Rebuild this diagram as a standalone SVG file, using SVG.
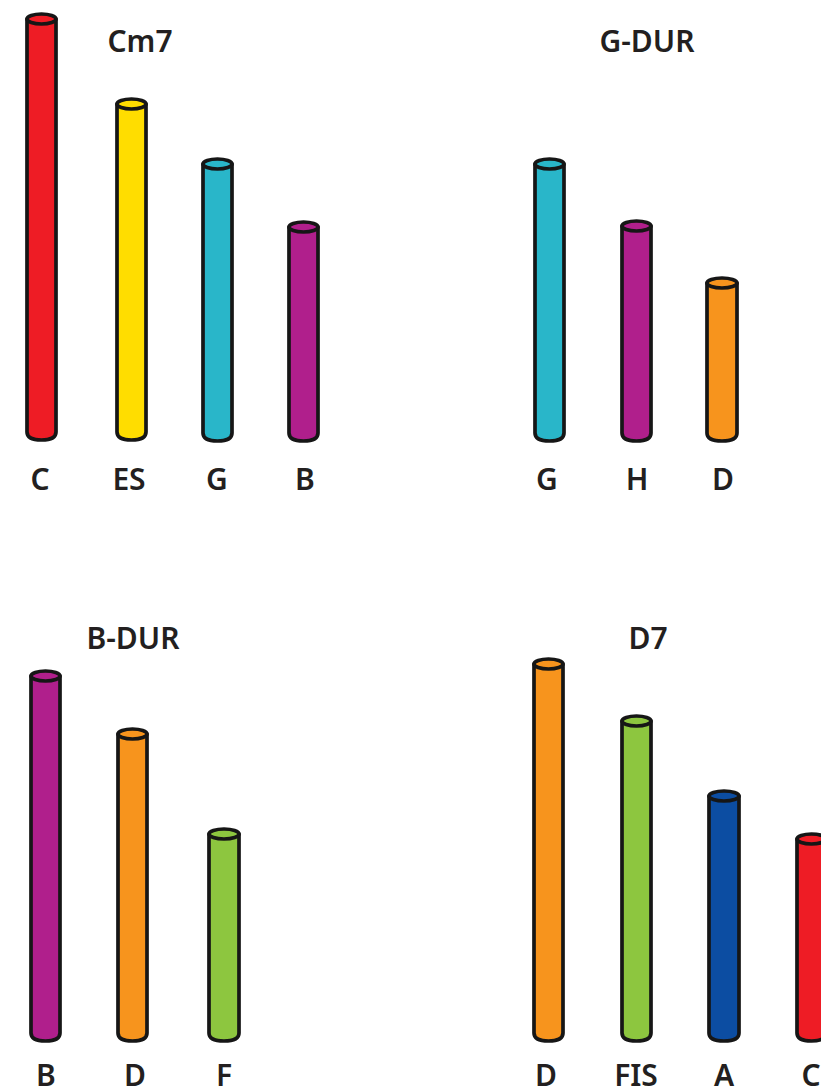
<svg xmlns="http://www.w3.org/2000/svg" width="821" height="1091" viewBox="0 0 821 1091">
<style>
.t{stroke:#161616;stroke-width:3.7;stroke-linejoin:round}
.lbl{font-family:"Noto Sans",sans-serif;font-weight:600;font-size:30px;fill:#231f20;text-anchor:middle}
.red{fill:#ee1c25}.yel{fill:#ffdd00}.cya{fill:#29b6c9}.pur{fill:#b01f8c}.ora{fill:#f7941d}.gre{fill:#8dc63f}.blu{fill:#0c4da2}
</style>
<rect width="821" height="1091" fill="#ffffff"/>

<g id="cm7">
<text class="lbl" x="140" y="52">Cm7</text>
<g id="cm7-c"><path class="t red" d="M27,19 L27,432 Q27,440 41.5,440 Q56,440 56,432 L56,19 Z"/><ellipse class="t red" cx="41.5" cy="19" rx="14.5" ry="5"/><text class="lbl" x="40" y="490">C</text></g>
<g id="cm7-es"><path class="t yel" d="M117,104 L117,432 Q117,440 131.5,440 Q146,440 146,432 L146,104 Z"/><ellipse class="t yel" cx="131.5" cy="104" rx="14.5" ry="5"/><text class="lbl" x="129" y="490">ES</text></g>
<g id="cm7-g"><path class="t cya" d="M203,164 L203,433 Q203,441 217.5,441 Q232,441 232,433 L232,164 Z"/><ellipse class="t cya" cx="217.5" cy="164" rx="14.5" ry="5"/><text class="lbl" x="217" y="490">G</text></g>
<g id="cm7-b"><path class="t pur" d="M289,227 L289,433 Q289,441 303.5,441 Q318,441 318,433 L318,227 Z"/><ellipse class="t pur" cx="303.5" cy="227" rx="14.5" ry="5"/><text class="lbl" x="305" y="490">B</text></g>
</g>

<g id="gdur">
<text class="lbl" x="647" y="52">G-DUR</text>
<g id="gdur-g"><path class="t cya" d="M535,164 L535,433 Q535,441 549.5,441 Q564,441 564,433 L564,164 Z"/><ellipse class="t cya" cx="549.5" cy="164" rx="14.5" ry="5"/><text class="lbl" x="547" y="490">G</text></g>
<g id="gdur-h"><path class="t pur" d="M622,226 L622,433 Q622,441 636.5,441 Q651,441 651,433 L651,226 Z"/><ellipse class="t pur" cx="636.5" cy="226" rx="14.5" ry="5"/><text class="lbl" x="637" y="490">H</text></g>
<g id="gdur-d"><path class="t ora" d="M707,283 L707,433 Q707,441 722,441 Q737,441 737,433 L737,283 Z"/><ellipse class="t ora" cx="722" cy="283" rx="15" ry="5"/><text class="lbl" x="723" y="490">D</text></g>
</g>

<g id="bdur">
<text class="lbl" x="133" y="649">B-DUR</text>
<g id="bdur-b"><path class="t pur" d="M31,676 L31,1033 Q31,1041 45.5,1041 Q60,1041 60,1033 L60,676 Z"/><ellipse class="t pur" cx="45.5" cy="676" rx="14.5" ry="5"/><text class="lbl" x="46" y="1086">B</text></g>
<g id="bdur-d"><path class="t ora" d="M118,734 L118,1033 Q118,1041 132.5,1041 Q147,1041 147,1033 L147,734 Z"/><ellipse class="t ora" cx="132.5" cy="734" rx="14.5" ry="5"/><text class="lbl" x="135" y="1086">D</text></g>
<g id="bdur-f"><path class="t gre" d="M209,834 L209,1033 Q209,1041 224,1041 Q239,1041 239,1033 L239,834 Z"/><ellipse class="t gre" cx="224" cy="834" rx="15" ry="5"/><text class="lbl" x="224" y="1086">F</text></g>
</g>

<g id="d7">
<text class="lbl" x="648" y="649">D7</text>
<g id="d7-d"><path class="t ora" d="M534,664 L534,1033 Q534,1041 548.5,1041 Q563,1041 563,1033 L563,664 Z"/><ellipse class="t ora" cx="548.5" cy="664" rx="14.5" ry="5"/><text class="lbl" x="546" y="1086">D</text></g>
<g id="d7-fis"><path class="t gre" d="M622,721 L622,1033 Q622,1041 636.5,1041 Q651,1041 651,1033 L651,721 Z"/><ellipse class="t gre" cx="636.5" cy="721" rx="14.5" ry="5"/><text class="lbl" x="636" y="1086">FIS</text></g>
<g id="d7-a"><path class="t blu" d="M709,796 L709,1033 Q709,1041 724,1041 Q739,1041 739,1033 L739,796 Z"/><ellipse class="t blu" cx="724" cy="796" rx="15" ry="5"/><text class="lbl" x="724" y="1086">A</text></g>
<g id="d7-c"><path class="t red" d="M797,839 L797,1033 Q797,1041 811.5,1041 Q826,1041 826,1033 L826,839 Z"/><ellipse class="t red" cx="811.5" cy="839" rx="14.5" ry="5"/><text class="lbl" x="811" y="1086">C</text></g>
</g>
</svg>
